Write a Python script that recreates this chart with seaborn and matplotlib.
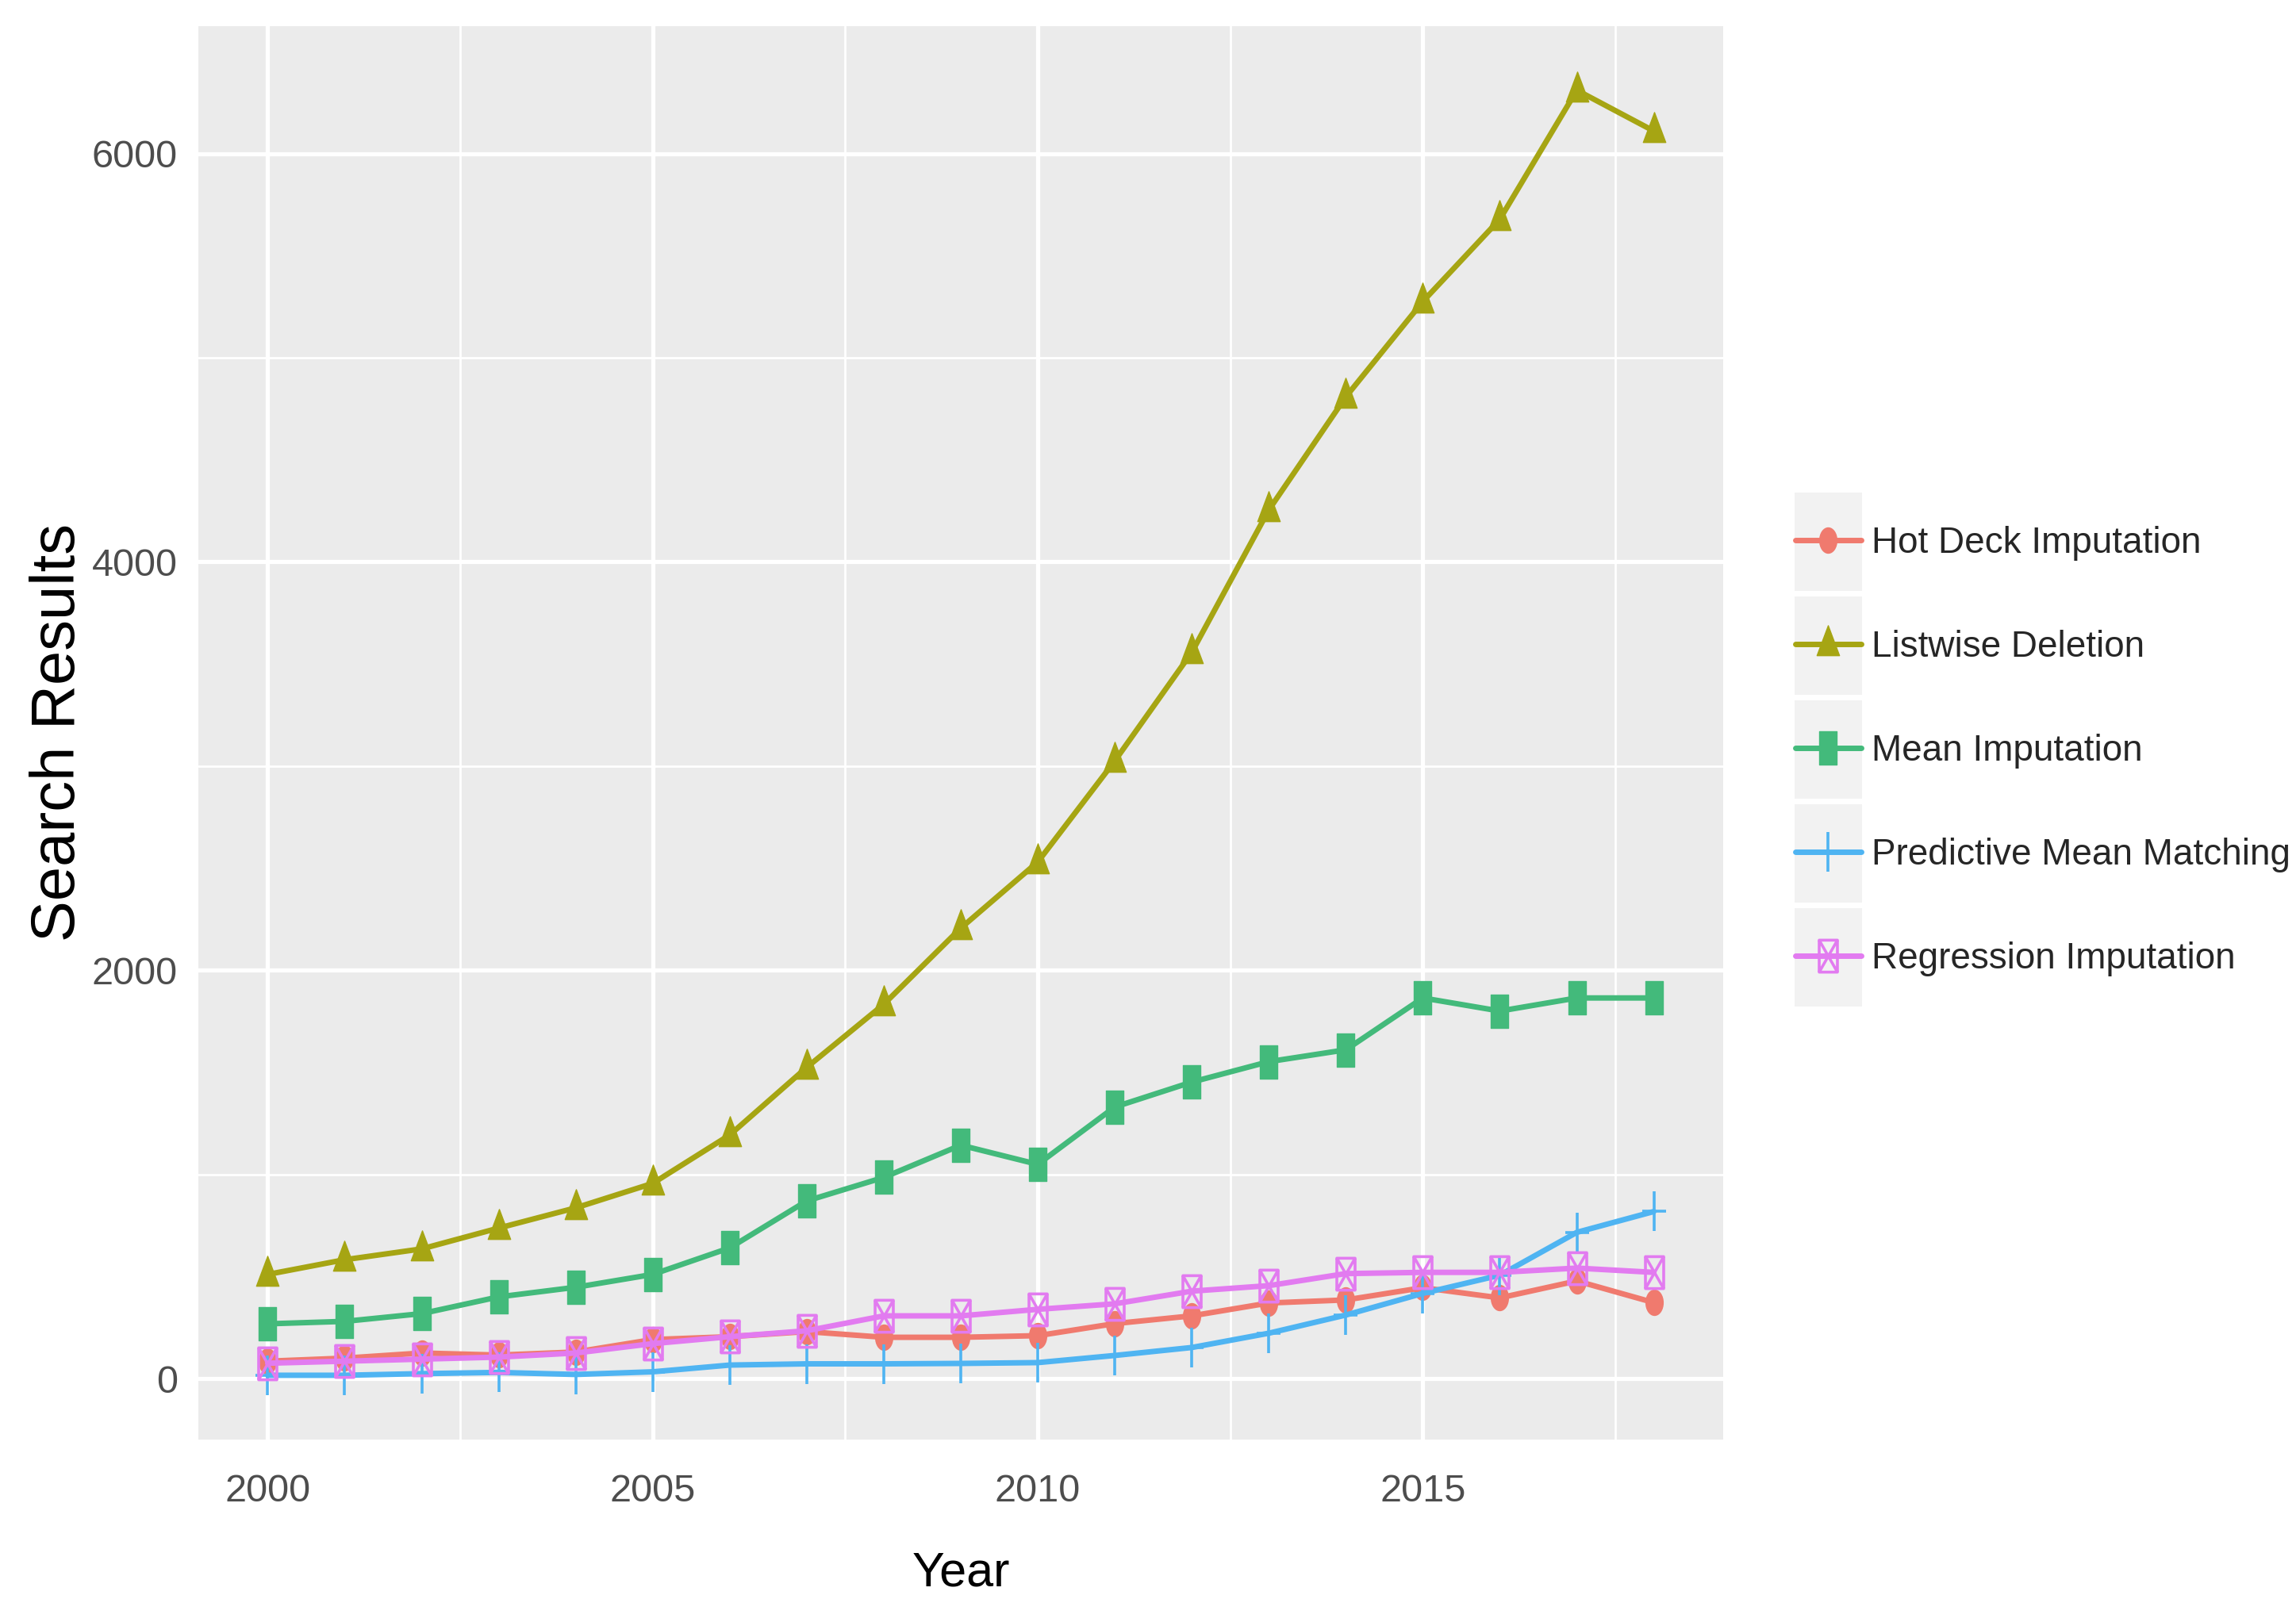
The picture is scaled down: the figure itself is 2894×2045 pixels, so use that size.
import matplotlib
matplotlib.use('Agg')
import matplotlib.pyplot as plt
import seaborn as sns
from matplotlib.path import Path
from matplotlib.patches import Rectangle
from matplotlib.ticker import MultipleLocator

# Данные
years = list(range(2000, 2019))
methods = ['Hot Deck Imputation', 'Listwise Deletion', 'Mean Imputation',
           'Predictive Mean Matching', 'Regression Imputation']
hot_deck = [85, 100, 125, 115, 130, 191, 205, 230, 202, 202, 210, 269, 307, 370, 385, 445, 395, 478, 372]
listwise = [510, 582, 635, 737, 836, 956, 1193, 1524, 1833, 2206, 2530, 3025, 3557, 4254, 4808, 5275, 5678, 6310, 6110]
mean_imp = [268, 280, 318, 400, 447, 510, 640, 870, 985, 1143, 1049, 1330, 1452, 1552, 1610, 1864, 1800, 1864, 1864]
pmm = [16, 16, 24, 30, 20, 33, 66, 72, 72, 74, 78, 113, 152, 222, 311, 417, 506, 716, 818]
regression = [75, 85, 95, 105, 125, 171, 205, 234, 307, 307, 339, 366, 428, 455, 514, 520, 520, 541, 520]
series = [hot_deck, listwise, mean_imp, pmm, regression]

# Цвета (палитра ggplot, чуть приглушённая, как на исходнике)
colors = ['#F07A6E', '#A6A513', '#43BA7B', '#4FB4F2', '#E27BF0']

# Маркеры (вытянуты по вертикали, как на исходнике)
M, L, C = Path.MOVETO, Path.LINETO, Path.CLOSEPOLY
circ = Path.unit_circle()
m_circle = Path(circ.vertices * [0.68, 1.0], circ.codes)
m_triangle = Path([(-0.6, -0.6), (0.6, -0.6), (0, 1.0), (-0.6, -0.6)], [M, L, L, C])
m_square = Path([(-0.55, -1), (0.55, -1), (0.55, 1), (-0.55, 1), (-0.55, -1)], [M, L, L, L, C])
m_plus = Path([(0, -1), (0, 1), (-0.6, 0), (0.6, 0)], [M, L, M, L])
m_boxx = Path([(-0.57, -1), (0.57, -1), (0.57, 1), (-0.57, 1), (-0.57, -1),
               (-0.57, -1), (0.57, 1), (-0.57, 1), (0.57, -1)],
              [M, L, L, L, C, M, L, M, L])
markers = [m_circle, m_triangle, m_square, m_plus, m_boxx]
marker_sizes = [23, 34, 30, 36, 29]
filled = [True, True, True, False, False]

sns.set_theme(style='darkgrid', rc={'axes.facecolor': '#EBEBEB', 'grid.color': 'white'})
plt.rcParams['font.family'] = ['Liberation Sans', 'DejaVu Sans']

fig = plt.figure(figsize=(28.94, 20.45), dpi=100)
ax = fig.add_axes([0.0864, 0.1125, 0.6641, 0.8715])

for name, vals, col, mk, ms, fl in zip(methods, series, colors, markers, marker_sizes, filled):
    sns.lineplot(x=years, y=vals, color=col, linewidth=5, marker=mk, markersize=ms,
                 markeredgecolor=col, markerfacecolor=col if fl else 'none',
                 markeredgewidth=1.0 if fl else 2.6, errorbar=None, label=name,
                 legend=False, ax=ax)

# Оси
all_vals = [v for s in series for v in s]
lo, hi = min(all_vals), max(all_vals)
pad = 0.05 * (hi - lo)
ax.set_ylim(lo - pad, hi + pad)
ax.set_xlim(years[0] - 0.05 * (years[-1] - years[0]), years[-1] + 0.05 * (years[-1] - years[0]))
ax.xaxis.set_major_locator(MultipleLocator(5))
ax.xaxis.set_minor_locator(MultipleLocator(2.5))
ax.yaxis.set_major_locator(MultipleLocator(2000))
ax.yaxis.set_minor_locator(MultipleLocator(1000))
ax.grid(which='major', color='white', linewidth=3.8)
ax.grid(which='minor', color='white', linewidth=2.0)
for s in ax.spines.values():
    s.set_visible(False)
ax.tick_params(axis='x', which='major', length=15, width=2.8, color='#333333',
               labelsize=35, labelcolor='#4D4D4D', pad=16)
ax.tick_params(axis='y', which='major', length=11, width=2.8, color='#333333',
               labelsize=35, labelcolor='#4D4D4D', pad=8)
ax.tick_params(which='minor', length=0)

ax.set_xlabel('Year', fontsize=44, color='black')
ax.set_ylabel('Search Results', fontsize=56, color='black')
ax.xaxis.set_label_coords(0.5, -0.079)
ax.yaxis.set_label_coords(-0.073, 0.5)

# Легенда справа
fs = 33
handle_len, text_pad = 1.8, 0.3
handles, labels = ax.get_legend_handles_labels()
leg = fig.legend(handles, labels, loc='center left', bbox_to_anchor=(2263 / 2894, 0.537),
                 frameon=False, fontsize=fs, borderpad=0, borderaxespad=0,
                 handlelength=handle_len, handletextpad=text_pad, labelspacing=1.9)

# Серые подложки под ключами легенды, как в ggplot
fig.canvas.draw()
renderer = fig.canvas.get_renderer()
W, H = fig.bbox.width, fig.bbox.height
fs_px = fs * fig.dpi / 72
for t in leg.get_texts():
    tb = t.get_window_extent(renderer)
    x1 = tb.x0 - text_pad * fs_px
    x0 = x1 - handle_len * fs_px
    yc = (tb.y0 + tb.y1) / 2 + 2
    rect = Rectangle(((x0 - 1) / W, (yc - 62) / H), (x1 - x0 + 2) / W, 124 / H,
                     transform=fig.transFigure, facecolor='#F2F2F2', edgecolor='none', zorder=0)
    fig.add_artist(rect)
leg.set_zorder(5)

plt.savefig('out.png', dpi=100)
plt.close()
